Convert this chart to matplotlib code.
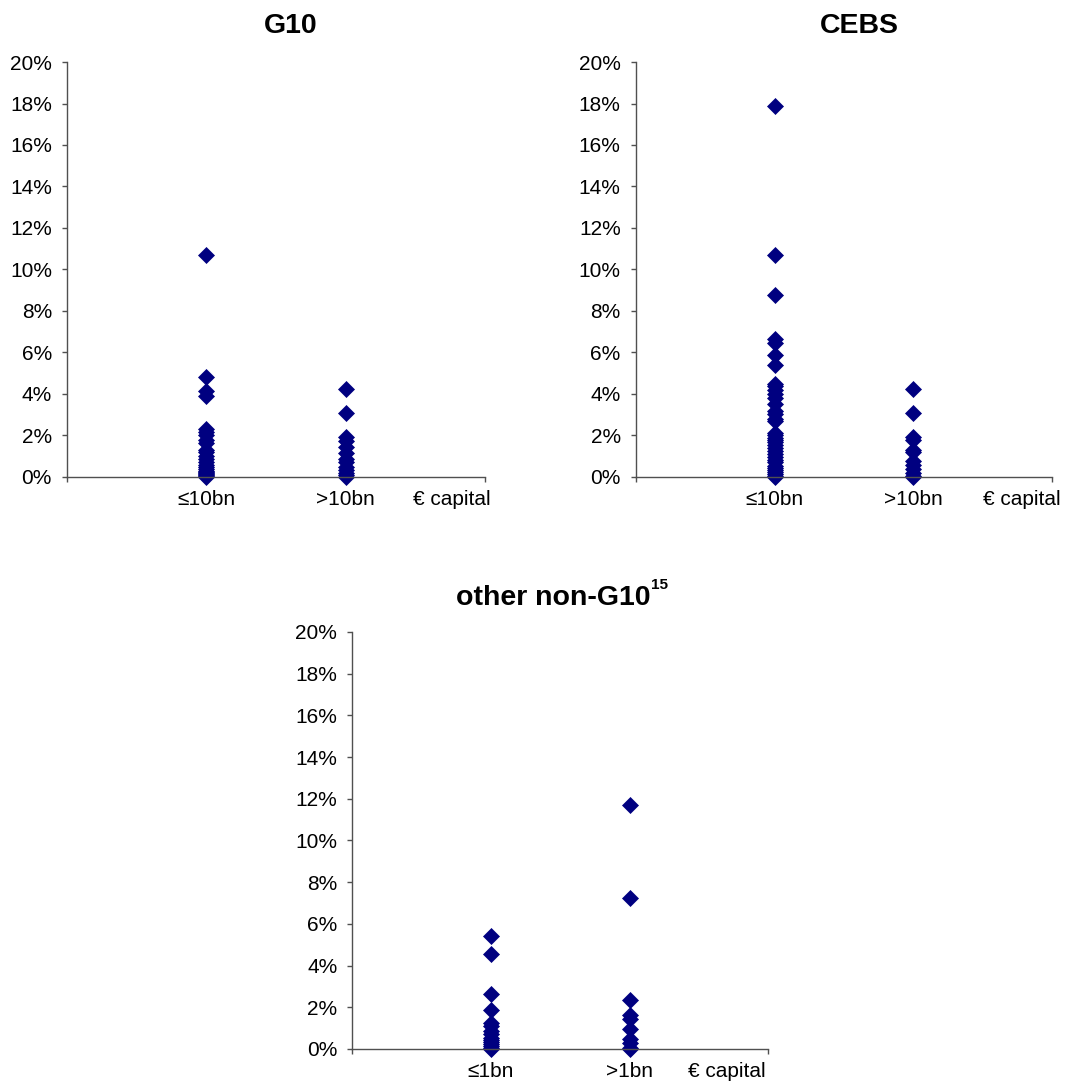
import matplotlib
matplotlib.use("Agg")
import matplotlib.pyplot as plt
from matplotlib.ticker import FuncFormatter, FixedLocator

plt.rcParams['font.family'] = ['Liberation Sans', 'DejaVu Sans']

# ---- data (percent) ----
g10_small = [10.7, 4.8, 4.15, 3.9, 2.3, 2.15, 2.0, 1.8, 1.65, 1.3, 1.2, 1.0, 0.85, 0.7,
             0.6, 0.5, 0.4, 0.3, 0.25, 0.2, 0.15, 0.1, 0.05, 0.0]
g10_large = [4.25, 3.1, 1.95, 1.75, 1.45, 1.15, 0.85, 0.7, 0.5, 0.35, 0.2, 0.1, 0.0]

cebs_small = [17.9, 10.7, 8.75, 6.65, 6.45, 5.9, 5.4, 4.5, 4.4, 4.2, 4.0, 3.8, 3.5, 3.2,
              3.05, 2.8, 2.7, 2.1, 2.0, 1.9, 1.8, 1.7, 1.55, 1.4, 1.25, 1.1, 0.95, 0.8,
              0.7, 0.55, 0.45, 0.35, 0.25, 0.15, 0.05, 0.0]
cebs_large = [4.25, 3.1, 1.95, 1.8, 1.3, 1.2, 0.75, 0.6, 0.4, 0.2, 0.05, 0.0]

other_small = [5.4, 4.55, 2.65, 1.85, 1.25, 1.1, 0.85, 0.7, 0.55, 0.45, 0.35, 0.25,
               0.15, 0.05, 0.0]
other_large = [11.7, 7.25, 2.35, 1.65, 1.45, 0.95, 0.5, 0.3, 0.05, 0.0]

g10_cats = ["≤10bn", ">10bn"]
cebs_cats = ["≤10bn", ">10bn"]
other_cats = ["≤1bn", ">1bn"]
axis_label = "€ capital"
y_ticks = [0, 2, 4, 6, 8, 10, 12, 14, 16, 18, 20]

titles = ["G10", "CEBS", "other non-G10"]
footnote = "15"

fig = plt.figure(figsize=(10.68, 10.84), dpi=100)

panels = [
    ([0.0627, 0.560, 0.3915, 0.3828], g10_small, g10_large, g10_cats, titles[0], 2.76, 0.536, 21, None),
    ([0.5952, 0.560, 0.3901, 0.3828], cebs_small, cebs_large, cebs_cats, titles[1], 2.78, 0.536, 21, None),
    ([0.3299, 0.0323, 0.3895, 0.3847], other_small, other_large, other_cats, titles[2], 2.70, 0.482, 19.5, footnote),
]

navy = "#000080"
spine_c = "#505050"

for rect, small, large, cats, title, lblx, tx, tpad, sup in panels:
    ax = fig.add_axes(rect)
    ax.plot([1] * len(small), small, linestyle='none', marker='D', markersize=7.8,
            color=navy, markeredgecolor=navy, markeredgewidth=0.5, clip_on=False)
    ax.plot([2] * len(large), large, linestyle='none', marker='D', markersize=7.8,
            color=navy, markeredgecolor=navy, markeredgewidth=0.5, clip_on=False)
    ax.set_xlim(0, 3)
    ax.set_ylim(0, 20)
    ax.yaxis.set_major_locator(FixedLocator(y_ticks))
    ax.yaxis.set_major_formatter(FuncFormatter(lambda v, p: f"{v:.0f}%"))
    ax.xaxis.set_major_locator(FixedLocator([0, 3]))
    ax.set_xticklabels(["", ""])
    for s in ['top', 'right']:
        ax.spines[s].set_visible(False)
    for s in ['left', 'bottom']:
        ax.spines[s].set_color(spine_c)
        ax.spines[s].set_linewidth(1.0)
    ax.tick_params(axis='y', direction='out', length=3.8, width=1, color=spine_c,
                   labelsize=15, pad=7)
    ax.tick_params(axis='x', direction='out', length=3.8, width=1, color=spine_c)
    for i, c in enumerate(cats):
        ax.text(i + 1, -1.1, c, ha='center', va='center', fontsize=15,
                transform=ax.transData)
    ax.text(lblx, -1.1, axis_label, ha='center', va='center', fontsize=15,
            transform=ax.transData)
    t = ax.set_title(title, fontsize=20.5, fontweight='bold', pad=tpad)
    t.set_x(tx)
    if sup:
        ax.annotate(sup, xy=(1.0, 1.0), xycoords=t, xytext=(0.8, 5.0),
                    textcoords='offset points', ha='left', va='top',
                    fontsize=11, fontweight='bold')

fig.savefig("out.png", dpi=100, facecolor='white')
